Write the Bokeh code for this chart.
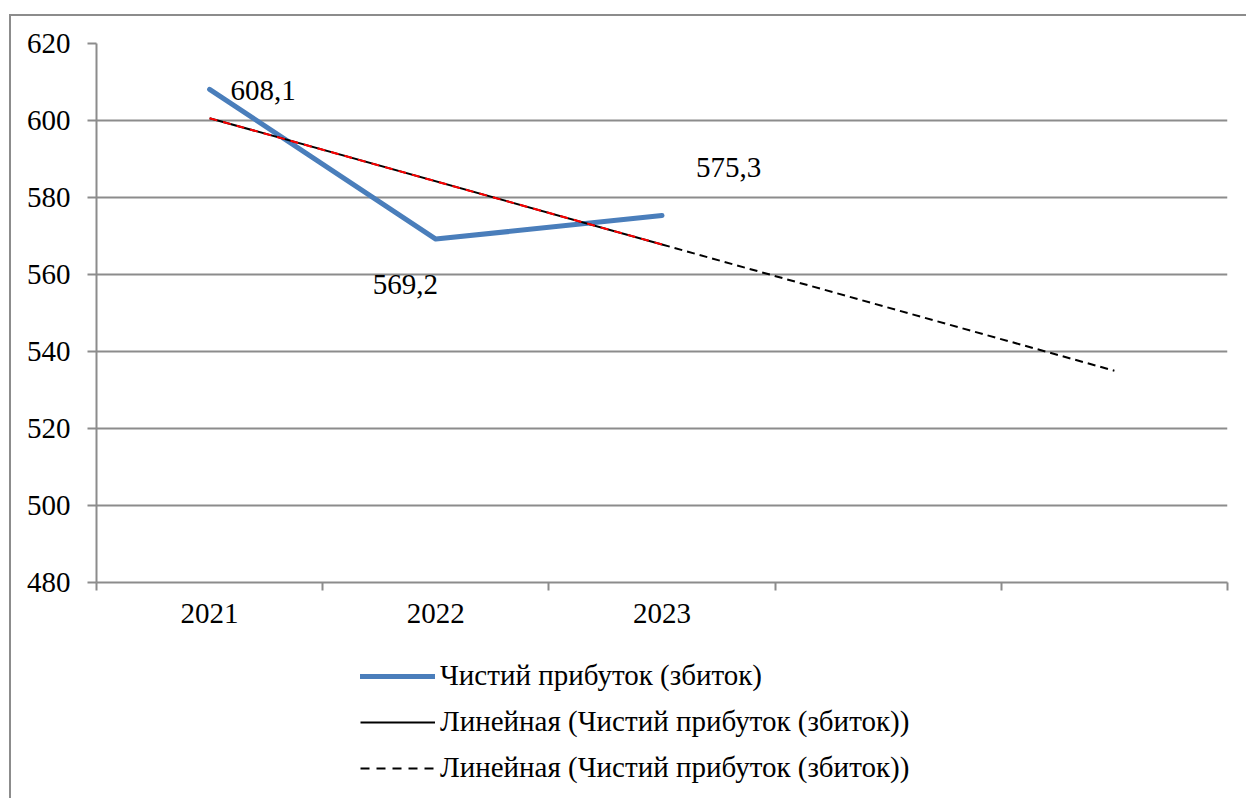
from bokeh.plotting import figure
from bokeh.layouts import column
from bokeh.models import (Range1d, FixedTicker, Legend, LegendItem, Label,
                          InlineStyleSheet)
from bokeh.embed import file_html
from bokeh.resources import INLINE

# Net profit (loss) by year, with a linear trend and its two-period forecast
years = ["2021", "2022", "2023", "", ""]
positions = [1, 2, 3, 4, 5]
profit = [608.1, 569.2, 575.3]
trend_x = [1, 3]
trend_y = [600.6, 567.8]
forecast_x = [3, 5]
forecast_y = [567.8, 535.0]
y_ticks = [480, 500, 520, 540, 560, 580, 600, 620]

series_name = "Чистий прибуток (збиток)"
trend_name = "Линейная (Чистий прибуток (збиток))"

FONT = "Liberation Serif"
SIZE = "29px"
GREY = "#8c8c8c"
BLUE = "#4a7ebb"


def border_css(top):
    # thin grey edge of the chart area drawn over the canvas
    edge = "border-top: 2px solid #8c8c8c;" if top else ""
    return InlineStyleSheet(css=f"""
:host::after {{
  content: "";
  position: absolute;
  left: 9px; top: {14 if top else 0}px; right: -20px; bottom: -20px;
  {edge}
  border-left: 2px solid #8c8c8c;
  pointer-events: none;
  z-index: 10;
}}
""")


W = 1246
MAIN_H = 640
LEG_H = 798 - MAIN_H

p = figure(width=W, height=MAIN_H, output_backend="svg", toolbar_location=None,
           x_range=Range1d(0.5, 5.5), y_range=Range1d(480, 620),
           min_border_left=96, min_border_right=19, min_border_top=43,
           min_border_bottom=MAIN_H - 582, stylesheets=[border_css(True)])
p.outline_line_color = None
p.background_fill_color = "white"
p.border_fill_color = "white"

# y axis
p.yaxis.ticker = FixedTicker(ticks=y_ticks)
p.yaxis.axis_line_color = GREY
p.yaxis.axis_line_width = 2
p.yaxis.major_tick_line_color = GREY
p.yaxis.major_tick_line_width = 2
p.yaxis.major_tick_out = 9
p.yaxis.major_tick_in = 0
p.yaxis.minor_tick_line_color = None
p.yaxis.major_label_standoff = 17
p.yaxis.major_label_text_font = FONT
p.yaxis.major_label_text_font_size = SIZE
p.yaxis.major_label_text_color = "black"

# x axis: labels at category centres, tick marks at category boundaries
boundaries = [b - 0.5 for b in positions] + [positions[-1] + 0.5]
p.xaxis.ticker = FixedTicker(ticks=positions, minor_ticks=boundaries)
p.xaxis.major_label_overrides = {pos: lab for pos, lab in zip(positions, years)}
p.xaxis.axis_line_color = GREY
p.xaxis.axis_line_width = 2
p.xaxis.major_tick_line_color = None
p.xaxis.major_tick_out = 0
p.xaxis.minor_tick_line_color = GREY
p.xaxis.minor_tick_line_width = 2
p.xaxis.minor_tick_out = 8
p.xaxis.minor_tick_in = 0
p.xaxis.major_label_standoff = 13
p.xaxis.major_label_text_font = FONT
p.xaxis.major_label_text_font_size = SIZE
p.xaxis.major_label_text_color = "black"

p.xgrid.grid_line_color = None
p.ygrid.ticker = FixedTicker(ticks=y_ticks)
p.ygrid.grid_line_color = GREY
p.ygrid.grid_line_width = 2

# series and trend lines
p.line(positions[:3], profit, line_color=BLUE, line_width=5,
       line_cap="round", line_join="round")
p.line(trend_x, trend_y, line_color="black", line_width=2)
p.line(trend_x, trend_y, line_color="red", line_width=2, line_dash="8 6")
p.line(forecast_x, forecast_y, line_color="black", line_width=2,
       line_dash="8 5")

# value labels
offsets = [(21, -1), (-63, -45), (34, 48)]
for x, y, (dx, dy) in zip(positions[:3], profit, offsets):
    p.add_layout(Label(x=x, y=y, x_offset=dx, y_offset=dy,
                       text=f"{y:.1f}".replace(".", ","),
                       text_font=FONT, text_font_size=SIZE,
                       text_color="black", text_align="left",
                       text_baseline="middle"))

# legend strip under the plot; its key lines carry the same series but sit
# outside this strip's visible range, so only the legend keys show
lg = figure(width=W, height=LEG_H, output_backend="svg", toolbar_location=None,
            x_range=Range1d(10, 20), y_range=Range1d(0, 1),
            x_axis_location=None, y_axis_location=None,
            min_border=0, stylesheets=[border_css(False)])
lg.grid.visible = False
lg.outline_line_color = None
lg.background_fill_color = "white"
lg.border_fill_color = "white"

key_main = lg.line(positions[:3], profit, line_color=BLUE, line_width=5,
                   line_cap="round")
key_trend = lg.line(trend_x, trend_y, line_color="black", line_width=2)
key_forecast = lg.line(forecast_x, forecast_y, line_color="black",
                       line_width=2, line_dash="9 7")

legend = Legend(items=[LegendItem(label=series_name, renderers=[key_main]),
                       LegendItem(label=trend_name, renderers=[key_trend]),
                       LegendItem(label=trend_name, renderers=[key_forecast])],
                location=(264, 14), orientation="vertical",
                glyph_width=75, glyph_height=30, label_height=30,
                label_standoff=5, spacing=13, padding=0, margin=0,
                border_line_color=None, background_fill_alpha=0,
                label_text_font=FONT, label_text_font_size=SIZE,
                label_text_color="black")
lg.add_layout(legend, "center")

page = column(p, lg, spacing=0)

open("out.html", "w").write(file_html(page, INLINE))
